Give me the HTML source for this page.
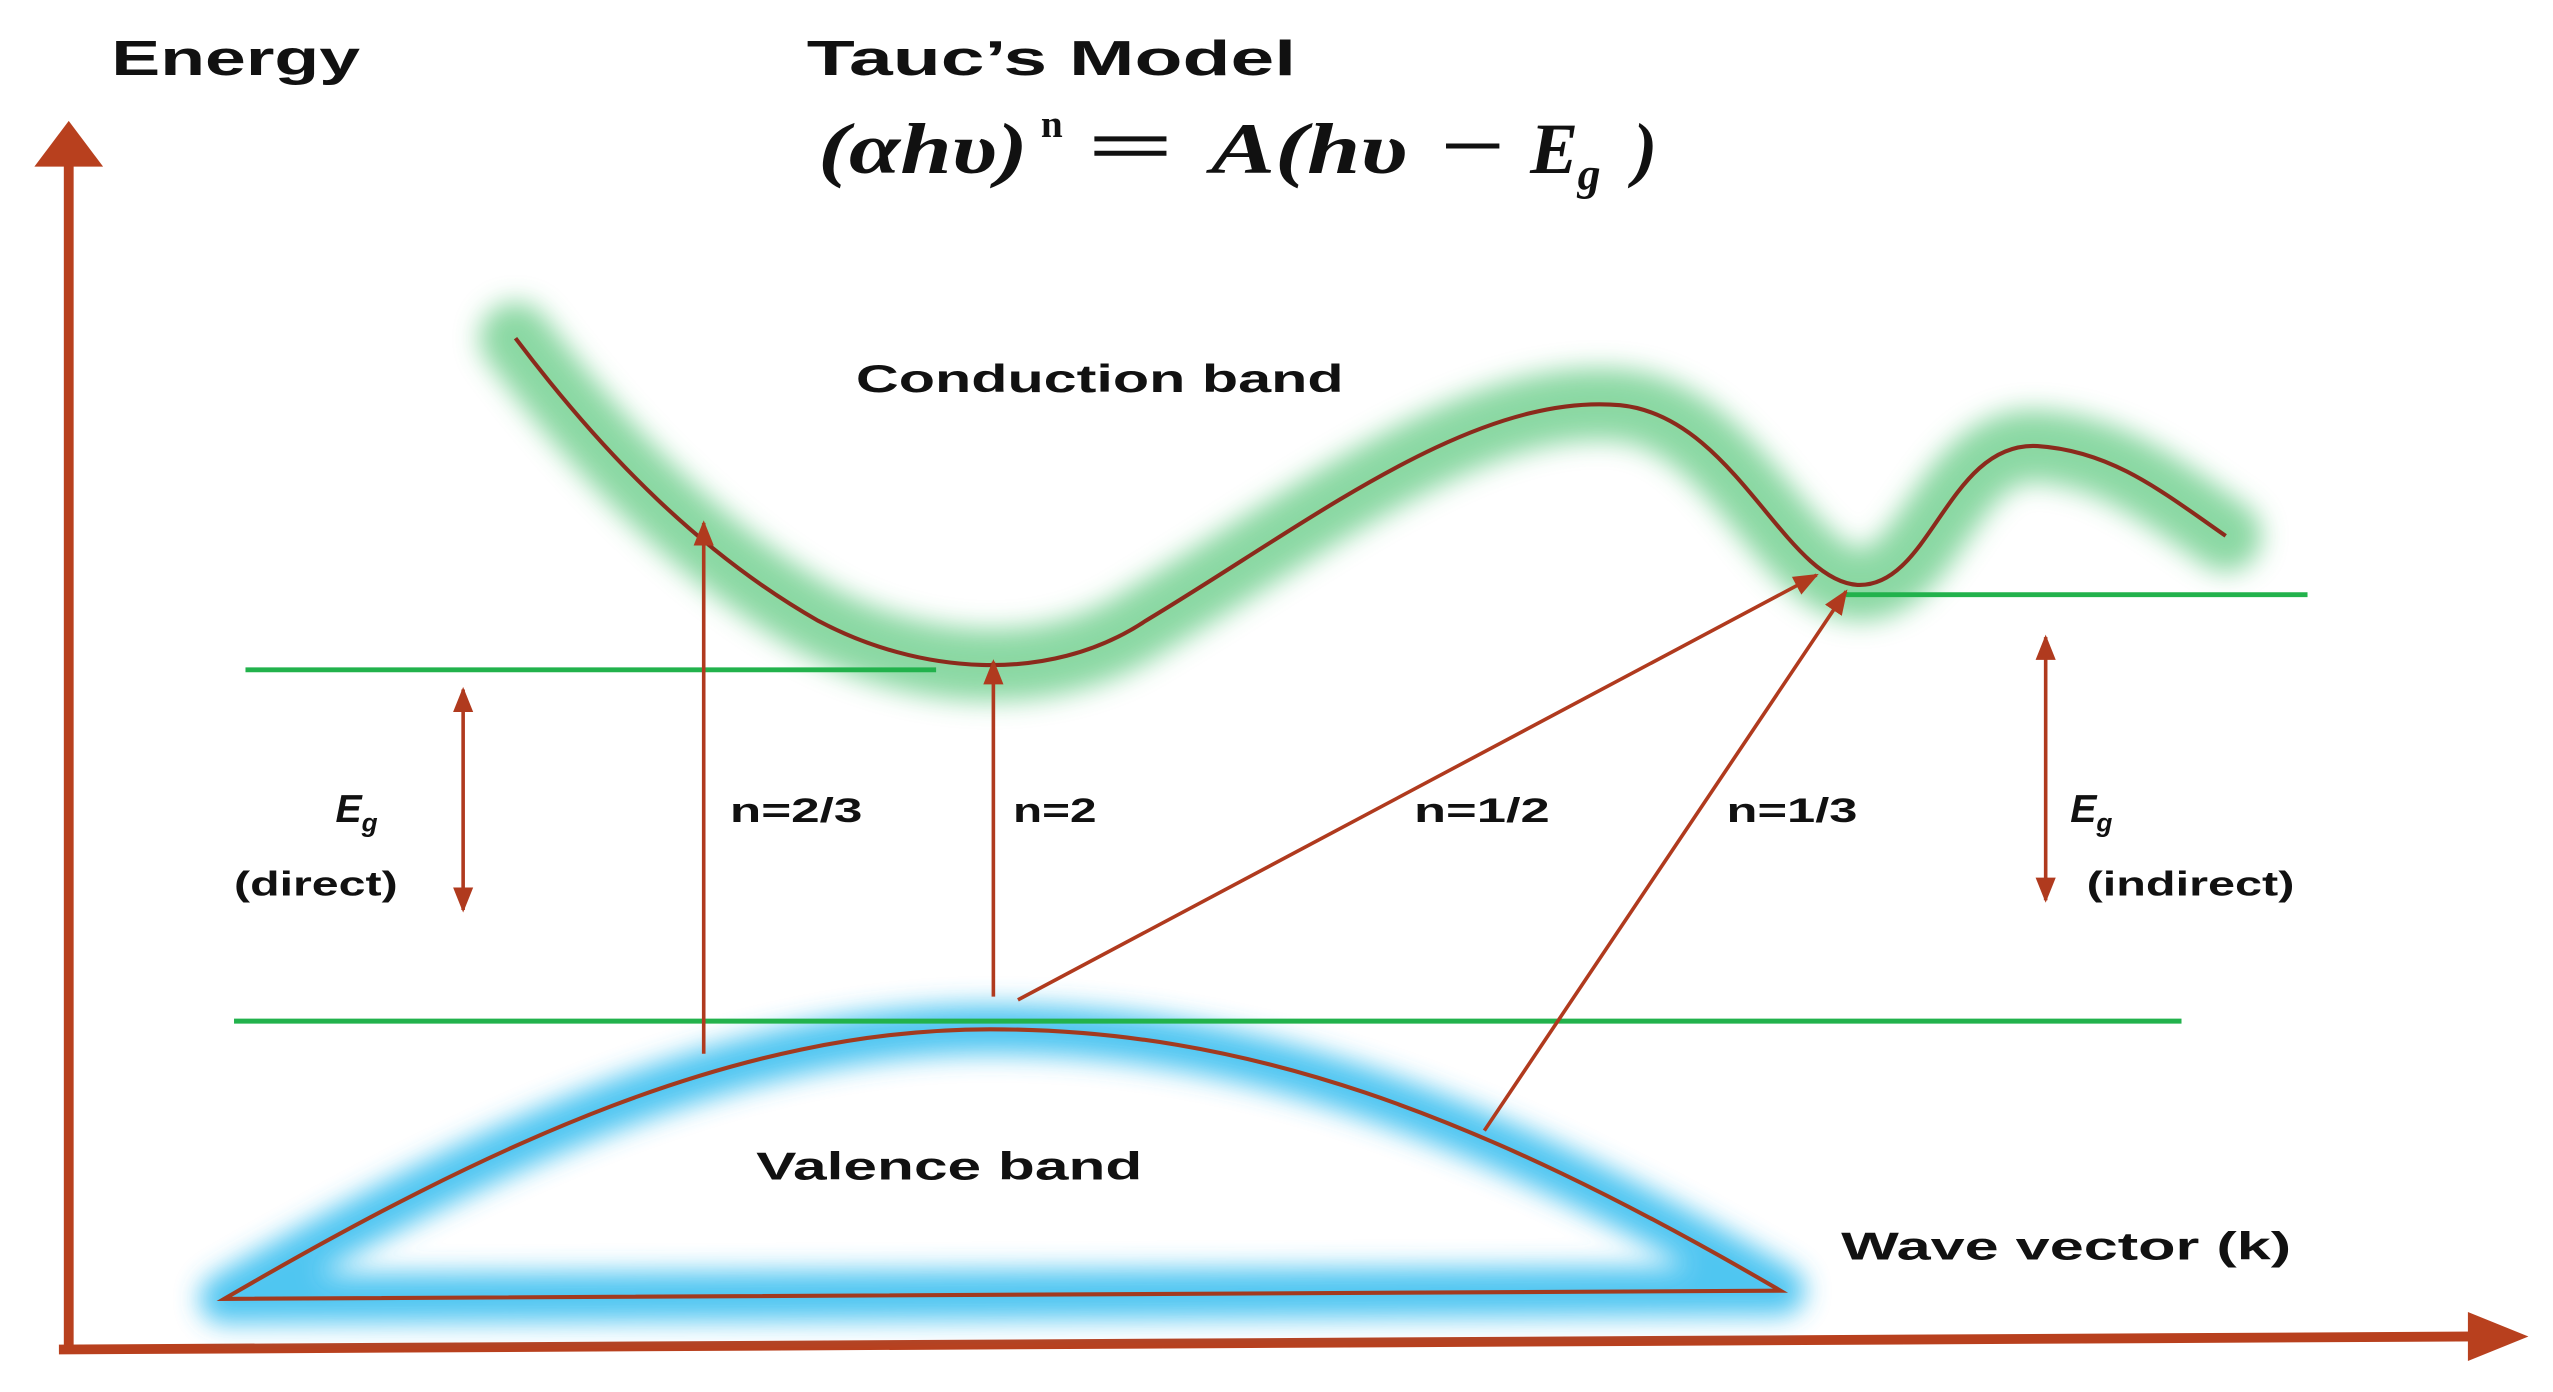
<!DOCTYPE html>
<html><head><meta charset="utf-8"><style>
html,body{margin:0;padding:0;background:#fff;}
svg{display:block;}
.b{font-family:"Liberation Sans",sans-serif;font-weight:bold;fill:#111;}
.f{font-family:"Liberation Serif",serif;font-weight:bold;font-style:italic;fill:#111;font-size:44px;}
</style></head><body>
<svg width="2553" height="1392" viewBox="0 0 1560 852" preserveAspectRatio="none" xmlns="http://www.w3.org/2000/svg">
<defs>
<filter id="g" x="-20%" y="-50%" width="140%" height="200%"><feGaussianBlur stdDeviation="8"/></filter>
<marker id="ah" viewBox="0 0 10 10" refX="9" refY="5" markerWidth="7" markerHeight="7" orient="auto-start-reverse"><path d="M0,1 L10,5 L0,9 z" fill="#b03a1e"/></marker>
</defs>
<rect width="1560" height="852" fill="#fff"/>
<line x1="42" y1="95" x2="42" y2="828" stroke="#b8401e" stroke-width="6"/>
<polygon points="21,102 42,74 63,102" fill="#b8401e"/>
<line x1="36" y1="826" x2="1515" y2="818" stroke="#b8401e" stroke-width="6"/>
<polygon points="1508,803 1545,818 1508,833" fill="#b8401e"/>
<text class="b" x="68" y="46" font-size="30" textLength="152" lengthAdjust="spacingAndGlyphs">Energy</text>
<text class="b" x="493" y="46" font-size="30" textLength="299" lengthAdjust="spacingAndGlyphs">Tauc’s Model</text>
<text class="f" x="500" y="106" textLength="128" lengthAdjust="spacingAndGlyphs">(αhυ)</text>
<text class="f" x="636" y="84" style="font-size:24px;font-style:normal">n</text>
<text class="f" x="664" y="104" style="font-style:normal" textLength="54" lengthAdjust="spacingAndGlyphs">=</text>
<text class="f" x="740" y="106" textLength="120" lengthAdjust="spacingAndGlyphs">A(hυ</text>
<text class="f" x="880" y="104" style="font-style:normal" textLength="40" lengthAdjust="spacingAndGlyphs">−</text>
<text class="f" x="935" y="106">E</text>
<text class="f" x="964" y="116" style="font-size:28px">g</text>
<text class="f" x="998" y="106">)</text>
<path d="M315,207 C370,280 430,340 500,380 C560,412 640,420 700,380 C800,320 900,240 990,248 C1060,255 1090,355 1135,358 C1180,360 1190,270 1245,273 C1290,276 1320,300 1360,328" fill="none" stroke="#7fd49a" stroke-width="44" stroke-linecap="round" filter="url(#g)" opacity="0.9"/>
<path d="M315,207 C370,280 430,340 500,380 C560,412 640,420 700,380 C800,320 900,240 990,248 C1060,255 1090,355 1135,358 C1180,360 1190,270 1245,273 C1290,276 1320,300 1360,328" fill="none" stroke="#8b2a1c" stroke-width="2.5"/>
<text class="b" x="523" y="240" font-size="24" textLength="298" lengthAdjust="spacingAndGlyphs">Conduction band</text>
<path d="M137,795 C300,700 450,630 605,630 C760,630 900,680 1088,790 Z" fill="none" stroke="#3cc0f0" stroke-width="30" stroke-linejoin="round" filter="url(#g)" opacity="0.9"/>
<path d="M137,795 C300,700 450,630 605,630 C760,630 900,680 1088,790 Z" fill="none" stroke="#a23a1f" stroke-width="2.5"/>
<text class="b" x="462" y="722" font-size="24" textLength="236" lengthAdjust="spacingAndGlyphs">Valence band</text>
<text class="b" x="1125" y="771" font-size="24" textLength="275" lengthAdjust="spacingAndGlyphs">Wave vector (k)</text>
<line x1="150" y1="410" x2="572" y2="410" stroke="#22b24c" stroke-width="3"/>
<line x1="1128" y1="364" x2="1410" y2="364" stroke="#22b24c" stroke-width="3"/>
<line x1="143" y1="625" x2="1333" y2="625" stroke="#22b24c" stroke-width="3"/>
<g stroke="#b03a1e" stroke-width="2.2" fill="none">
<line x1="430" y1="645" x2="430" y2="320" marker-end="url(#ah)"/>
<line x1="607" y1="610" x2="607" y2="405" marker-end="url(#ah)"/>
<line x1="622" y1="612" x2="1110" y2="352" marker-end="url(#ah)"/>
<line x1="907" y1="692" x2="1128" y2="362" marker-end="url(#ah)"/>
<line x1="283" y1="422" x2="283" y2="557" marker-start="url(#ah)" marker-end="url(#ah)"/>
<line x1="1250" y1="390" x2="1250" y2="551" marker-start="url(#ah)" marker-end="url(#ah)"/>
</g>
<g class="b" font-size="21">
<text x="446" y="503" textLength="81" lengthAdjust="spacingAndGlyphs">n=2/3</text>
<text x="619" y="503" textLength="51" lengthAdjust="spacingAndGlyphs">n=2</text>
<text x="864" y="503" textLength="83" lengthAdjust="spacingAndGlyphs">n=1/2</text>
<text x="1055" y="503" textLength="80" lengthAdjust="spacingAndGlyphs">n=1/3</text>
<text x="143" y="548" textLength="100" lengthAdjust="spacingAndGlyphs">(direct)</text>
<text x="1275" y="548" textLength="127" lengthAdjust="spacingAndGlyphs">(indirect)</text>
</g>
<text x="205" y="503" font-family="Liberation Sans,sans-serif" font-weight="bold" font-style="italic" font-size="24" fill="#111">E<tspan font-size="16" dy="6">g</tspan></text>
<text x="1265" y="503" font-family="Liberation Sans,sans-serif" font-weight="bold" font-style="italic" font-size="24" fill="#111">E<tspan font-size="16" dy="6">g</tspan></text>
</svg>
</body></html>
